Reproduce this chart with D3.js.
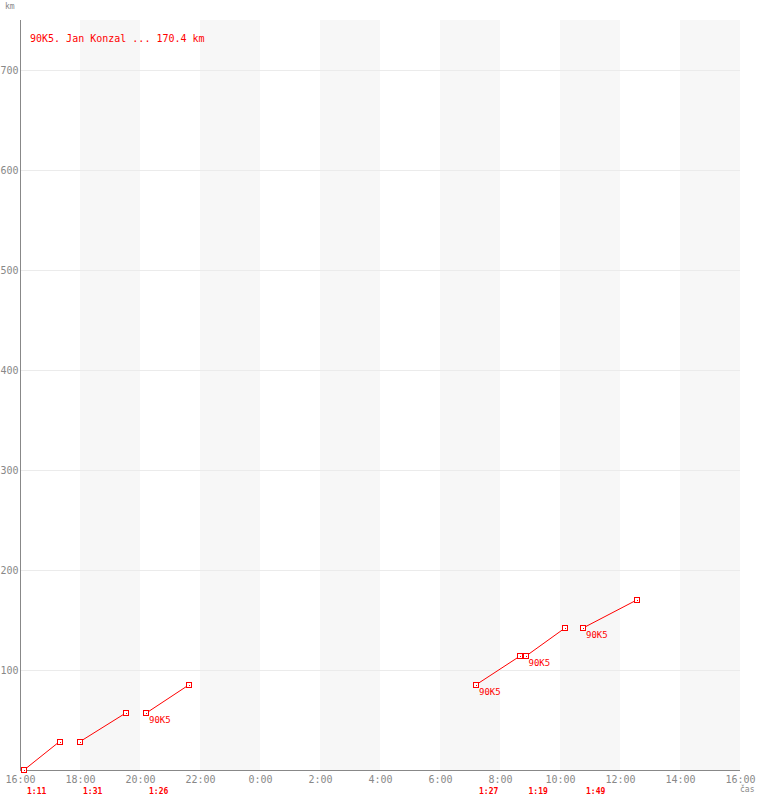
<!DOCTYPE html>
<html><head><meta charset="utf-8">
<script src="https://cdn.jsdelivr.net/npm/d3@7"></script>
<style>body{margin:0;background:#fff}svg{display:block}</style>
</head><body>
<svg id="c" width="760" height="800"></svg>
<script>
const title = "90K5. Jan Konzal ... 170.4 km";
const segStart = ["16:08","18:00","20:12","07:12","08:51","10:46"];
const segEnd   = ["17:19","19:31","21:38","08:39","10:10","12:35"];
const kmStart  = [0, 28.4, 56.8, 85.2, 113.6, 142.0];
const kmEnd    = [28.4, 56.8, 85.2, 113.6, 142.0, 170.4];
const durations = ["1:11","1:31","1:26","1:27","1:19","1:49"];
const segLabels = ["","","90K5","90K5","90K5","90K5"];
const yTicks = [100,200,300,400,500,600,700];
const shadeStartHours = [18,22,2,6,10,14];

const red = "#ff0000", grey = "#888";
const mono = "'DejaVu Sans Mono', monospace";
const day0 = new Date(2020,0,1,16,0);
const day1 = new Date(2020,0,2,16,0);
function toDate(s){const [h,m]=s.split(":").map(Number);return new Date(2020,0,h>=16?1:2,h,m);}
function hourDate(h){return new Date(2020,0,h>=16?1:2,h,0);}

const x = d3.scaleTime().domain([day0,day1]).range([20,740]);
const y = d3.scaleLinear().domain([0,700]).range([770,70]);
const svg = d3.select("#c");

// shaded bands
svg.append("g").selectAll("rect").data(shadeStartHours).join("rect")
  .attr("x",d=>x(hourDate(d))).attr("y",20)
  .attr("width",d=>x(d3.timeHour.offset(hourDate(d),2))-x(hourDate(d)))
  .attr("height",750).attr("fill","#f7f7f7");

// grid
svg.append("g").selectAll("line").data(yTicks).join("line")
  .attr("x1",21).attr("x2",740).attr("y1",d=>Math.round(y(d))+0.5).attr("y2",d=>Math.round(y(d))+0.5)
  .attr("stroke","#ebebeb").attr("stroke-width",1);

// y axis
const yAxis = d3.axisLeft(y).tickValues(yTicks).tickSize(0).tickPadding(2);
const gy = svg.append("g").attr("transform","translate(20.5,0)").call(yAxis);
gy.select(".domain").remove();
gy.selectAll("text").attr("font-family",mono).attr("font-size",10).attr("fill",grey).attr("dy","0.35em");
svg.append("line").attr("x1",20.5).attr("x2",20.5).attr("y1",20).attr("y2",770).attr("stroke",grey);

// x axis
const xTicks = d3.range(0,13).map(i=>d3.timeHour.offset(day0,2*i));
const xAxis = d3.axisBottom(x).tickValues(xTicks).tickSize(0).tickPadding(5)
  .tickFormat(d=>d.getHours()+":00");
const gx = svg.append("g").attr("transform","translate(0,770.5)").call(xAxis);
gx.select(".domain").remove();
gx.selectAll("text").attr("font-family",mono).attr("font-size",10).attr("fill",grey);
svg.append("line").attr("x1",20).attr("x2",740).attr("y1",770.5).attr("y2",770.5).attr("stroke",grey);

svg.append("text").attr("x",5).attr("y",9).text("km").attr("font-family",mono).attr("font-size",8).attr("fill",grey);
svg.append("text").attr("x",740).attr("y",792).text("čas").attr("font-family",mono).attr("font-size",8).attr("fill",grey);

// title
svg.append("text").attr("x",30).attr("y",42).text(title).attr("font-family",mono).attr("font-size",10).attr("fill",red);

// segments
const segs = segStart.map((s,i)=>({s:toDate(s),e:toDate(segEnd[i]),k0:kmStart[i],k1:kmEnd[i],dur:durations[i],lab:segLabels[i]}));
const g = svg.append("g");
g.selectAll("line.seg").data(segs).join("line").attr("class","seg")
  .attr("x1",d=>x(d.s)).attr("y1",d=>y(d.k0)).attr("x2",d=>x(d.e)).attr("y2",d=>y(d.k1))
  .attr("stroke",red).attr("stroke-width",1);
const pts = segs.flatMap(d=>[[d.s,d.k0],[d.e,d.k1]]);
g.selectAll("rect.m").data(pts).join("rect").attr("class","m")
  .attr("x",d=>Math.round(x(d[0]))-2.5).attr("y",d=>Math.round(y(d[1]))-2.5)
  .attr("width",5).attr("height",5).attr("fill","#fff").attr("stroke",red).attr("stroke-width",1);
g.selectAll("rect.c").data(pts).join("rect").attr("class","c")
  .attr("x",d=>Math.round(x(d[0]))).attr("y",d=>Math.round(y(d[1])))
  .attr("width",1).attr("height",1).attr("fill",red);
g.selectAll("text.lab").data(segs.filter(d=>d.lab)).join("text").attr("class","lab")
  .attr("x",d=>x(d.s)+3).attr("y",d=>y(d.k0)+10).text(d=>d.lab)
  .attr("font-family",mono).attr("font-size",9).attr("fill",red);
g.selectAll("text.dur").data(segs).join("text").attr("class","dur")
  .attr("x",d=>x(d.s)+3).attr("y",794).text(d=>d.dur)
  .attr("font-family",mono).attr("font-size",8).attr("font-weight","bold").attr("fill",red);
</script>
</body></html>
